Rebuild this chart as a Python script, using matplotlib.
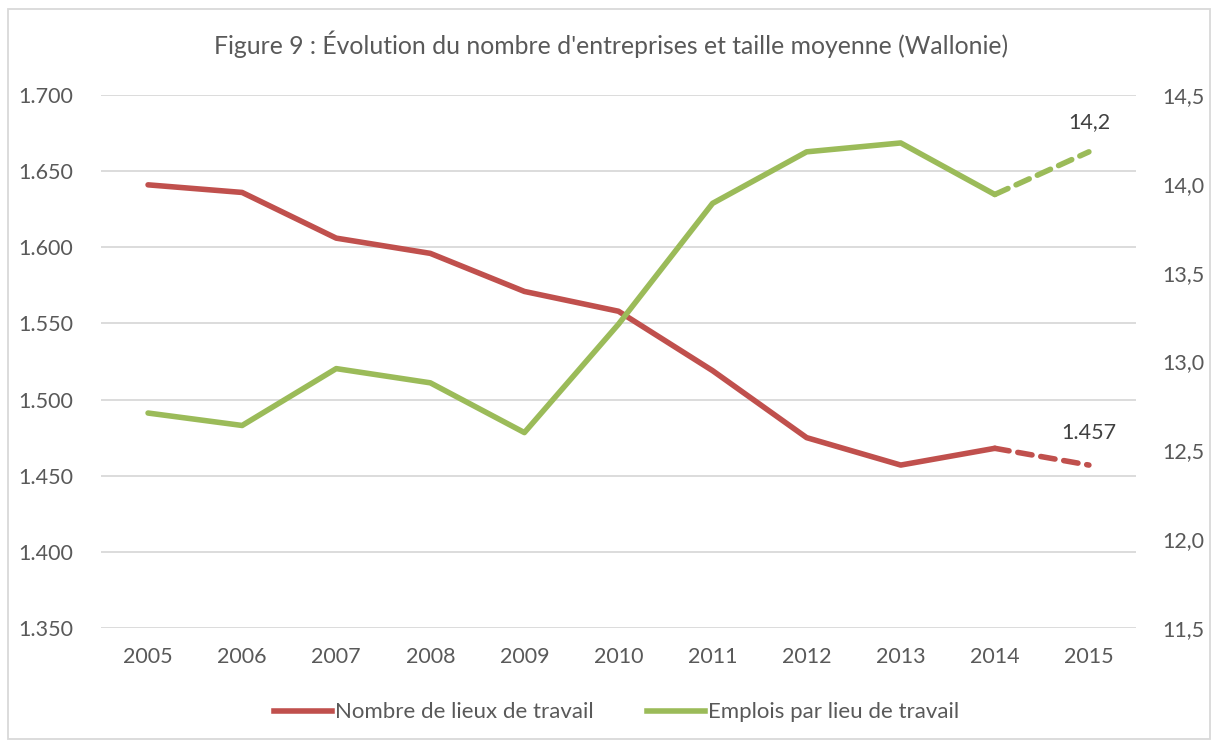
import matplotlib.pyplot as plt
from matplotlib.lines import Line2D
from matplotlib.patches import Rectangle

plt.rcParams['font.family'] = ['Lato', 'DejaVu Sans']

# --- Data ------------------------------------------------------------------
years = ["2005", "2006", "2007", "2008", "2009", "2010",
         "2011", "2012", "2013", "2014", "2015"]
lieux = [1641, 1636, 1606, 1596, 1571, 1558, 1519, 1475, 1457, 1468, 1457]
emplois = [12.71, 12.64, 12.96, 12.88, 12.60, 13.21, 13.89, 14.18, 14.23, 13.94, 14.18]

left_ticks = [1350, 1400, 1450, 1500, 1550, 1600, 1650, 1700]
right_ticks = [11.5, 12.0, 12.5, 13.0, 13.5, 14.0, 14.5]

RED = "#C0504D"
GREEN = "#9BBB59"
GRID = "#D9D9D9"
TXT = "#595959"


def fmt_left(v):
    return f"{v:,}".replace(",", ".")


def fmt_right(v):
    return f"{v:.1f}".replace(".", ",")


fig = plt.figure(figsize=(12.14, 7.42), dpi=100)
ax = fig.add_axes([0.0832, 0.1536, 0.8525, 0.7184])
ax2 = ax.twinx()

x = list(range(len(years)))

# gridlines (left scale)
for v in left_ticks:
    ax.axhline(v, color=GRID, lw=1.3, zorder=0)

# solid part up to 2014, dashed last segment
dash = (0, (2.6, 1.6))
ax.plot(x[:-1], lieux[:-1], color=RED, lw=4, solid_capstyle="round", zorder=3)
ax.plot(x[-2:], lieux[-2:], color=RED, lw=4, linestyle=dash, dash_capstyle="round", zorder=3)
ax2.plot(x[:-1], emplois[:-1], color=GREEN, lw=4, solid_capstyle="round", zorder=3)
ax2.plot(x[-2:], emplois[-2:], color=GREEN, lw=4, linestyle=dash, dash_capstyle="round", zorder=3)

ax.set_xlim(-0.5, len(years) - 0.5)
ax.set_ylim(left_ticks[0], left_ticks[-1])
ax2.set_ylim(right_ticks[0], right_ticks[-1])

ax.set_xticks(x)
ax.set_xticklabels(years)
ax.set_yticks(left_ticks)
ax.set_yticklabels([fmt_left(v) for v in left_ticks])
ax2.set_yticks(right_ticks)
ax2.set_yticklabels([fmt_right(v) for v in right_ticks])

for a in (ax, ax2):
    for s in a.spines.values():
        s.set_visible(False)
    a.tick_params(length=0, labelsize=15.5, colors=TXT)
ax.tick_params(axis="x", pad=14)
ax.tick_params(axis="y", pad=20)
ax2.tick_params(axis="y", pad=19)

# data labels on last point
ax.annotate(fmt_left(lieux[-1]), (x[-1], lieux[-1]), xytext=(0, 16),
            textcoords="offset points", ha="center", va="bottom",
            fontsize=15.5, color="#404040")
ax2.annotate(fmt_right(round(emplois[-1], 1)), (x[-1], emplois[-1]), xytext=(0, 14),
             textcoords="offset points", ha="center", va="bottom",
             fontsize=15.5, color="#404040")

fig.text(0.503, 0.94, "Figure 9 : Évolution du nombre d'entreprises et taille moyenne (Wallonie)",
         ha="center", va="center", fontsize=17.8, color=TXT)

handles = [Line2D([0], [0], color=RED, lw=4, label="Nombre de lieux de travail"),
           Line2D([0], [0], color=GREEN, lw=4, label="Emplois par lieu de travail")]
fig.legend(handles=handles, loc="center", bbox_to_anchor=(0.508, 0.04), ncol=2,
           frameon=False, fontsize=16, labelcolor=TXT, handlelength=2.6,
           handletextpad=0.15, columnspacing=2.4)

# outer frame
fig.patches.append(Rectangle((0.007, 0.004), 0.99, 0.984, transform=fig.transFigure,
                             fill=False, edgecolor=GRID, lw=1.3))

fig.savefig("out.png", dpi=100)
